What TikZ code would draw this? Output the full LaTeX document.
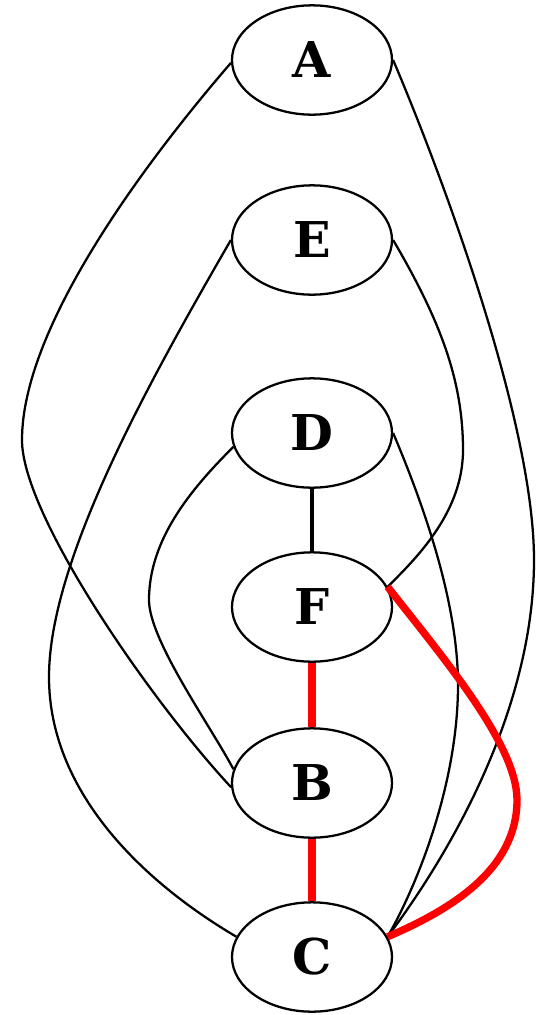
\documentclass[tikz,border=0pt]{standalone}
\usepackage{fontspec}
\setmainfont{DejaVu Serif}
\usepackage{tikz}
\usetikzlibrary{shapes.geometric}

\begin{document}
\begin{tikzpicture}[x=0.75pt, y=-0.75pt,
    vertex/.style={draw, ellipse, line width=1.7pt, minimum width=120pt, minimum height=82pt, inner sep=0pt, font=\fontsize{37}{40}\selectfont\bfseries},
    edge/.style={line width=1.7pt},
    treeedge/.style={line width=3pt},
    redge/.style={line width=5.5pt, red}]

\useasboundingbox (0,0) rectangle (539,1015);

% Vertices
\node[vertex] (A) at (312, 60) {A};
\node[vertex] (E) at (312, 240) {E};
\node[vertex] (D) at (312, 433) {D};
\node[vertex] (F) at (312, 607) {F};
\node[vertex] (B) at (312, 783) {B};
\node[vertex] (C) at (312, 957) {C};

% Straight edges
\draw[treeedge] (D) -- (F);
\draw[redge] (F) -- (B);
\draw[redge] (B) -- (C);

% Curved edges on the left
\draw[edge] (A.182) .. controls (160,145) and (22,320) .. (22,440)
    .. controls (22,515) and (150,700) .. (B.183);
\draw[edge] (E.west) .. controls (150,380) and (49,560) .. (49,677)
    .. controls (49,790) and (140,880) .. (C.165);
\draw[edge] (D.190) .. controls (190,490) and (149,540) .. (149,600)
    .. controls (149,640) and (210,725) .. (B.170);

% Curved edges on the right
\draw[edge] (A.east) .. controls (440,170) and (534,420) .. (534,560)
    .. controls (534,700) and (460,840) .. (C.15);
\draw[edge] (E.east) .. controls (440,320) and (463,380) .. (463,450)
    .. controls (463,510) and (420,555) .. (F.15);
\draw[edge] (D.east) .. controls (430,520) and (458,610) .. (458,685)
    .. controls (458,780) and (420,880) .. (C.15);
\draw[redge] (F.15) .. controls (445,660) and (517,745) .. (517,800)
    .. controls (517,870) and (450,910) .. (C.15);

\end{tikzpicture}
\end{document}
